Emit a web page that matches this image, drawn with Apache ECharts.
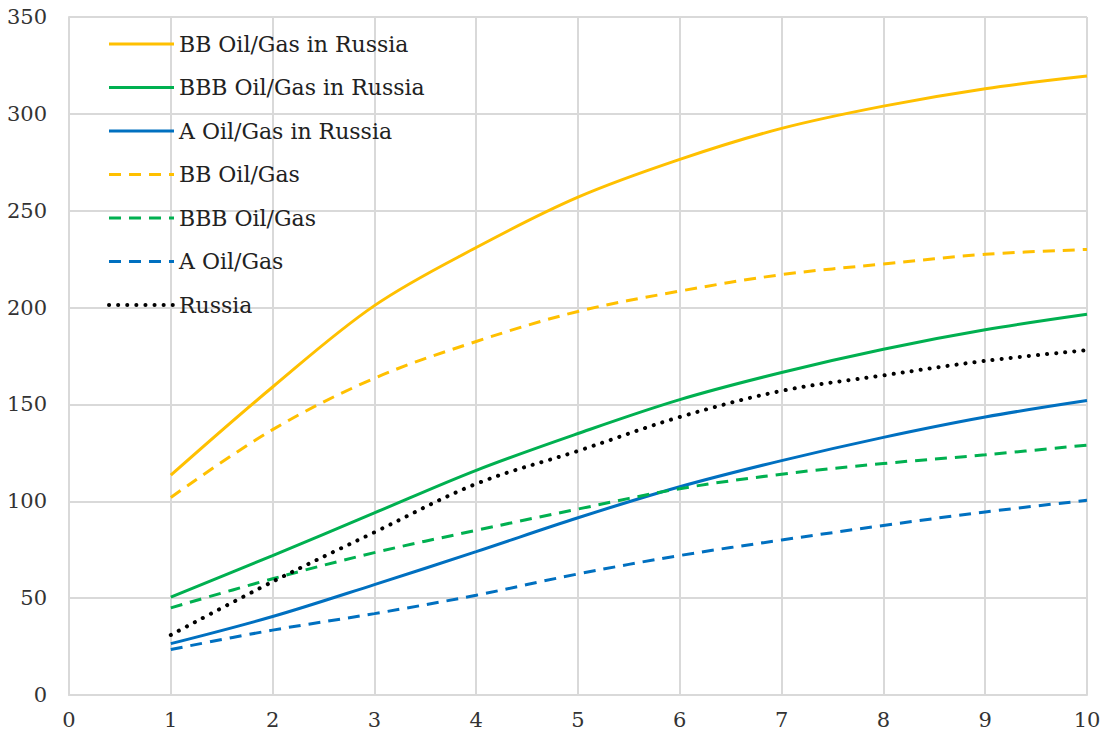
<!DOCTYPE html>
<html><head><meta charset="utf-8">
<script src="https://cdn.jsdelivr.net/npm/echarts@6/dist/echarts.min.js"></script>
<style>html,body{margin:0;padding:0;background:#fff;font-family:'DejaVu Serif',serif}#c{width:1104px;height:742px}</style>
</head><body><div id="c"></div>
<script>
const xs = [1,2,3,4,5,6,7,8,9,10];
const bbRussia  = [113.5,159,201,231,257,276.5,292.5,304,313,319.5];
const bbbRussia = [50.5,72,94,116,135,152.5,166.5,178.5,188.5,196.5];
const aRussia   = [26.5,40.5,57,74,91.5,107.5,121,133,143.5,152];
const bbOil     = [102,137,163.5,182.5,198,208.5,217,222.5,227.5,230];
const bbbOil    = [45,60,73.5,85,96,106.5,114,119.5,124,129];
const aOil      = [23.5,33.5,42,51.5,62.5,72,80,87.5,94.5,100.5];
const russia    = [31,58.5,84,109,126,143.5,157,165,172.5,178];
const yTicks = [0,50,100,150,200,250,300,350];

const pts = a => xs.map((x,i)=>[x,a[i]]);
const FONT = 'DejaVu Serif';
function s(name, data, color, type){
  let ls = {color, width:3, type:'solid'};
  if(type==='dotted'){ ls = {color, width:4, type:[0.1,9], cap:'round'}; }
  else if(type==='dashed'){ ls = {color, width:3, type:[12,8]}; }
  return {name, type:'line', data:pts(data), smooth:0.35, symbol:'none', showSymbol:false, lineStyle:ls, itemStyle:{color}};
}
const chart = echarts.init(document.getElementById('c'), null, {renderer:'svg'});
chart.setOption({
  animation:false,
  textStyle:{fontFamily:FONT},
  grid:{left:69,right:17,top:17,bottom:47},
  legend:{
    orient:'vertical', left:102, top:28, itemWidth:65, itemHeight:18, itemGap:21.5,
    itemStyle:{opacity:0},
    lineStyle:{width:'inherit'},
    textStyle:{fontFamily:FONT, fontSize:22, color:'#222'},
    data:['BB Oil/Gas in Russia','BBB Oil/Gas in Russia','A Oil/Gas in Russia','BB Oil/Gas','BBB Oil/Gas','A Oil/Gas','Russia']
  },
  xAxis:{type:'value', min:0, max:10, interval:1,
    axisLine:{lineStyle:{color:'#d9d9d9', width:2}}, axisTick:{show:false},
    splitLine:{show:true, lineStyle:{color:'#d9d9d9', width:2}},
    axisLabel:{fontFamily:FONT, fontSize:21, color:'#333', margin:14}},
  yAxis:{type:'value', min:0, max:350, interval:50,
    axisLine:{show:true, lineStyle:{color:'#d9d9d9', width:2}}, axisTick:{show:false},
    splitLine:{show:true, lineStyle:{color:'#d9d9d9', width:2}},
    axisLabel:{fontFamily:FONT, fontSize:21, color:'#333', margin:22, formatter:v=>yTicks.includes(v)?String(v):''}},
  series:[
    s('BB Oil/Gas in Russia', bbRussia, '#FFC000', 'solid'),
    s('BBB Oil/Gas in Russia', bbbRussia, '#00B050', 'solid'),
    s('A Oil/Gas in Russia', aRussia, '#0070C0', 'solid'),
    s('BB Oil/Gas', bbOil, '#FFC000', 'dashed'),
    s('BBB Oil/Gas', bbbOil, '#00B050', 'dashed'),
    s('A Oil/Gas', aOil, '#0070C0', 'dashed'),
    s('Russia', russia, '#000000', 'dotted')
  ]
});
</script></body></html>
